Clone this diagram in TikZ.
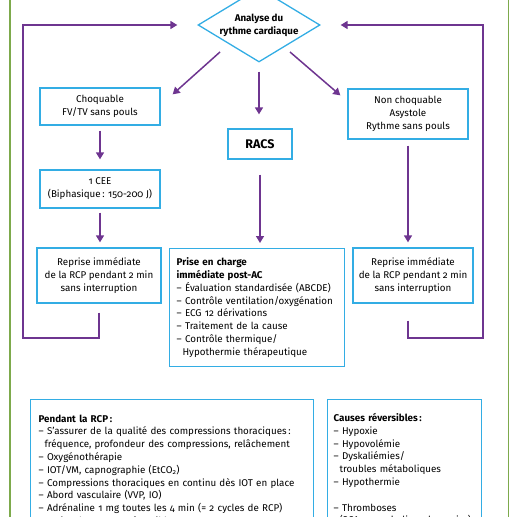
\documentclass[tikz,border=0pt]{standalone}
\usepackage{fontspec}
\setmainfont{Fira Sans}[Numbers=OldStyle]
\usetikzlibrary{shapes.geometric}
\usetikzlibrary{arrows.meta}
\definecolor{boxblue}{HTML}{33ADE4}
\definecolor{flowpurple}{HTML}{6E3590}
\definecolor{framegreen}{HTML}{7DAA4C}
\newcommand{\entry}[1]{\mbox{\textendash\ #1}}
\newcommand{\more}[1]{\mbox{\hspace*{0.6em}#1}}
\tikzset{
  box/.style={draw=boxblue, line width=1.3pt, align=center, inner sep=2pt,
              font=\fontsize{9.8}{12.8}\selectfont},
  listbox/.style={box, align=left, anchor=north west},
  flow/.style={draw=flowpurple, line width=1.5pt,
               -{Triangle[width=8pt,length=7pt]}}
}

\begin{document}
\begin{tikzpicture}[x=1pt,y=-1pt]
  \useasboundingbox (0,0) rectangle (518,516);
  % frame
  \draw[framegreen, line width=1.3pt] (10,-5) -- (10,525);
  \draw[framegreen, line width=1.3pt] (508.5,-5) -- (508.5,525);

  % decision
  \node[box, diamond, aspect=1.65, minimum width=122pt, minimum height=74pt,
        inner sep=0pt, font=\fontsize{9.8}{12.8}\selectfont\bfseries]
        (diag) at (259,25) {Analyse du\\rythme cardiaque};

  % left branch
  \node[box, minimum width=120pt, minimum height=37pt] (choq) at (100,106.5)
        {Choquable\\FV/TV sans pouls};
  \node[box, minimum width=120pt, minimum height=38pt] (cee) at (100,189)
        {1 CEE\\(Biphasique\,: 150-200 J)};
  \node[box, minimum width=124pt, minimum height=55pt] (repL) at (99,275.5)
        {Reprise immédiate\\de la RCP pendant 2 min\\sans interruption};

  % middle branch
  \node[box, minimum width=64pt, minimum height=30pt,
        font=\fontsize{12.5}{14}\selectfont\bfseries] (racs) at (260,144) {RACS};
  \node[listbox, text width=161pt, inner xsep=7pt, inner ysep=4pt,
        minimum height=118pt] (prise) at (169,248)
        {\textbf{Prise en charge}\\\textbf{immédiate post-AC}\\
         \entry{Évaluation standardisée (ABCDE)}\\
         \entry{Contrôle ventilation/oxygénation}\\
         \entry{ECG 12 dérivations}\\
         \entry{Traitement de la cause}\\
         \entry{Contrôle thermique/}\\
         \more{Hypothermie thérapeutique}};

  % right branch
  \node[box, minimum width=120pt, minimum height=50pt] (nonch) at (408,114)
        {Non choquable\\Asystole\\Rythme sans pouls};
  \node[box, minimum width=120pt, minimum height=55pt] (repR) at (413,275.5)
        {Reprise immédiate\\de la RCP pendant 2 min\\sans interruption};

  % bottom boxes
  \node[listbox, text width=267pt, inner xsep=8pt, inner ysep=9pt,
        minimum height=140pt] (rcp) at (30,399)
        {\textbf{Pendant la RCP\,:}\\
         \entry{S’assurer de la qualité des compressions thoraciques\,:}\\
         \more{fréquence, profondeur des compressions, relâchement}\\
         \entry{Oxygénothérapie}\\
         \entry{IOT/VM, capnographie (EtCO\textsubscript{2})}\\
         \entry{Compressions thoraciques en continu dès IOT en place}\\
         \entry{Abord vasculaire (VVP, IO)}\\
         \entry{Adrénaline 1 mg toutes les 4 min (= 2 cycles de RCP)}\\
         \entry{Traiter les causes réversibles}};
  \node[listbox, text width=142pt, inner xsep=6pt, inner ysep=9pt,
        minimum height=140pt] (causes) at (327,399)
        {\textbf{Causes réversibles\,:}\\
         \entry{Hypoxie}\\
         \entry{Hypovolémie}\\
         \entry{Dyskaliémies/}\\
         \more{troubles métaboliques}\\
         \entry{Hypothermie}\\[12.8pt]
         \entry{Thromboses}\\
         \more{(SCA ou embolie pulmonaire)}};

  \coordinate (loopL) at (23,338);
  \coordinate (loopR) at (483,338);

  % arrows
  \draw[flow] ([shift={(-39pt,-27pt)}]diag.center) -- ([shift={(12pt,-7pt)}]choq.north east);
  \draw[flow] ([shift={(31pt,-27pt)}]diag.center) -- ([shift={(-7pt,-7pt)}]nonch.north west);
  \draw[flow, shorten <=9pt, shorten >=14pt] (diag.south) -- (diag.south |- racs.north);
  \draw[flow, shorten <=5pt, shorten >=10pt] (choq) -- (cee);
  \draw[flow, shorten <=4pt, shorten >=5pt] (cee.south) -- (cee.south |- repL.north);
  \draw[flow, shorten <=15pt, shorten >=5pt] (racs.south) -- (racs.south |- prise.north);
  \draw[flow, shorten <=6pt, shorten >=5pt] (nonch.south) -- (nonch.south |- repR.north);
  % loops back
  \draw[flow] ([yshift=-9pt]repL.south) |- (loopL) |- ([xshift=-20pt]diag.west);
  \draw[flow] ([yshift=-17pt]nonch.south |- repR.south) |- (loopR) |- ([xshift=20pt]diag.east);
\end{tikzpicture}
\end{document}
